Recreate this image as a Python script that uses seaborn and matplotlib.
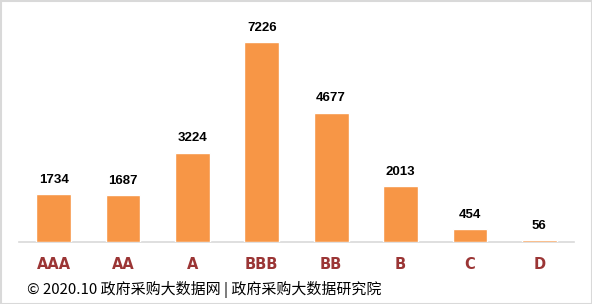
import matplotlib
matplotlib.use("Agg")
import matplotlib.pyplot as plt
import seaborn as sns
import pandas as pd
from matplotlib.patches import Rectangle

# Credit rating counts
ratings = ["AAA", "AA", "A", "BBB", "BB", "B", "C", "D"]
counts = [1734, 1687, 3224, 7226, 4677, 2013, 454, 56]
source_note = "© 2020.10 政府采购大数据网 | 政府采购大数据研究院"

sns.set_theme(style="white")
plt.rcParams["font.family"] = ["Noto Sans CJK SC", "DejaVu Sans"]

df = pd.DataFrame({"rating": ratings, "count": counts})

fig = plt.figure(figsize=(5.92, 3.04), dpi=100)
ax = fig.add_axes([19 / 592, 1 - 242 / 304, (574 - 19) / 592, (242 - 10) / 304])

sns.barplot(data=df, x="rating", y="count", color="#F79646", saturation=1,
            width=0.5, ax=ax, zorder=3)

ax.set_ylim(0, 7226 * 232 / 200)
ax.set_xlim(-0.5, len(ratings) - 0.5)
ax.set_xlabel("")
ax.set_ylabel("")
ax.set_yticks([])
for side in ["top", "right", "left"]:
    ax.spines[side].set_visible(False)
ax.spines["bottom"].set_color("#d9d9d9")
ax.spines["bottom"].set_linewidth(1.2)
ax.spines["bottom"].set_zorder(1)
ax.tick_params(axis="x", length=0, pad=11)
for lbl in ax.get_xticklabels():
    lbl.set_fontsize(10.5)
    lbl.set_fontweight("bold")
    lbl.set_color("#9B3535")
    lbl.set_family(["DejaVu Sans"])

for i, v in enumerate(counts):
    ax.annotate(f"{v}", (i, v), xytext=(0, 6), textcoords="offset points",
                ha="center", va="bottom", fontsize=9.5, fontweight="bold",
                color="black", family=["Liberation Sans", "DejaVu Sans"])

fig.text(27 / 592, 1 - 289 / 304, source_note, ha="left", va="center",
         fontsize=10.8, color="black")

fig.patches.append(Rectangle((0.5 / 592, 0.5 / 304), 591 / 592, 303 / 304,
                             transform=fig.transFigure, fill=False,
                             edgecolor="#d9d9d9", linewidth=1.5))

fig.savefig("out.png", dpi=100)
